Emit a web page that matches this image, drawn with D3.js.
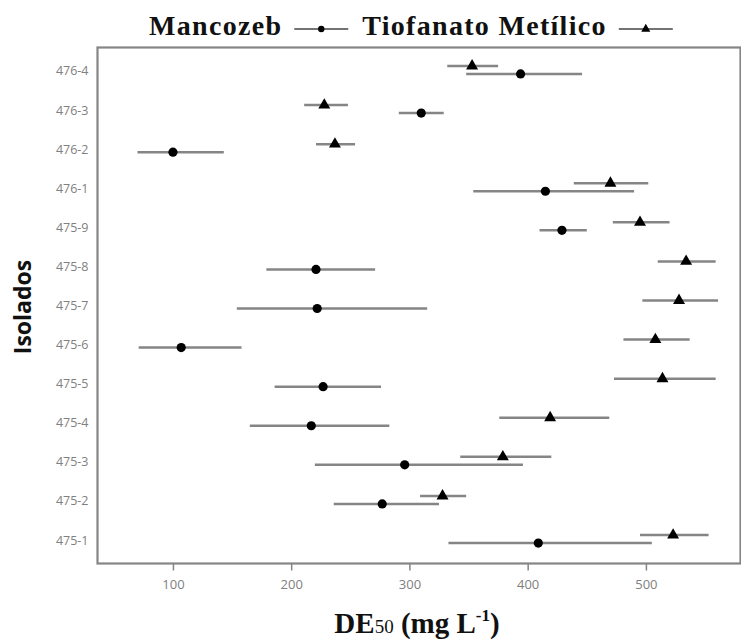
<!DOCTYPE html>
<html>
<head>
<meta charset="utf-8">
<script src="https://cdn.jsdelivr.net/npm/d3@7"></script>
<style>
  html, body { margin: 0; padding: 0; background: #fff; }
  svg { display: block; }
</style>
</head>
<body>
<div id="chart"></div>
<script>
	"use strict";

	// isolates, top to bottom
	var aIsolados = ["476-4", "476-3", "476-2", "476-1", "475-9", "475-8", "475-7",
		"475-6", "475-5", "475-4", "475-3", "475-2", "475-1"];

	// Mancozeb: DE50 and interval
	var aMancozeb = [394, 310, 100, 415, 429, 221, 222, 107, 227, 217, 296, 277, 409];
	var aMancozebLo = [348, 291, 70, 354, 410, 179, 154, 71, 186, 165, 220, 236, 333];
	var aMancozebHi = [446, 329, 143, 490, 450, 271, 315, 158, 276, 283, 396, 325, 505];

	// Tiofanato Metilico: DE50 and interval
	var aTiofanato = [353, 228, 237, 470, 495, 534, 528, 508, 514, 419, 379, 328, 523];
	var aTiofanatoLo = [332, 211, 221, 439, 472, 510, 497, 481, 473, 376, 343, 309, 495];
	var aTiofanatoHi = [375, 248, 254, 502, 520, 559, 561, 537, 559, 469, 420, 348, 553];

	var aTicks = [100, 200, 300, 400, 500];

	var iW = 741, iH = 641;
	var oPlot = { left: 97.5, top: 47.5, right: 740.5, bottom: 563.5 };

	var svg = d3.select("#chart").append("svg")
		.attr("width", iW).attr("height", iH);

	var x = d3.scaleLinear().domain([36.2, 580]).range([oPlot.left, oPlot.right]);
	var y = d3.scalePoint().domain(aIsolados).range([oPlot.top, oPlot.bottom]).padding(0.6);

	var sGray = "#858585";
	var sTickFont = "'Open Sans', sans-serif";
	var sSerif = "'Liberation Serif', 'Times New Roman', serif";

	// frame
	svg.append("rect")
		.attr("x", oPlot.left).attr("y", oPlot.top)
		.attr("width", oPlot.right - oPlot.left).attr("height", oPlot.bottom - oPlot.top)
		.attr("fill", "none").attr("stroke", sGray).attr("stroke-width", 2.2);

	// x axis
	var gX = svg.append("g")
		.attr("transform", "translate(0," + oPlot.bottom + ")")
		.call(d3.axisBottom(x).tickValues(aTicks).tickSize(7).tickPadding(9));
	gX.select(".domain").remove();
	gX.selectAll("line").attr("stroke", sGray).attr("stroke-width", 1.5);
	gX.selectAll("text").attr("fill", "#808080").attr("font-size", 13)
		.attr("font-family", sTickFont);

	// y axis labels
	var gY = svg.append("g")
		.attr("transform", "translate(" + oPlot.left + ",0)")
		.call(d3.axisLeft(y).tickSize(0).tickPadding(9));
	gY.select(".domain").remove();
	gY.selectAll("text").attr("fill", "#808080").attr("font-size", 12.5)
		.attr("font-family", sTickFont);

	function makeSeries(aVal, aLo, aHi, sName) {
		return aIsolados.map(function (s, i) {
			return { iso: s, v: aVal[i], lo: aLo[i], hi: aHi[i], name: sName };
		});
	}

	var aM = makeSeries(aMancozeb, aMancozebLo, aMancozebHi, "m");
	var aT = makeSeries(aTiofanato, aTiofanatoLo, aTiofanatoHi, "t");
	var iDyM = 3, iDyT = -5;

	var gData = svg.append("g");

	gData.selectAll("line.em").data(aM).enter().append("line")
		.attr("class", "em")
		.attr("x1", function (d) { return x(d.lo); })
		.attr("x2", function (d) { return x(d.hi); })
		.attr("y1", function (d) { return y(d.iso) + iDyM; })
		.attr("y2", function (d) { return y(d.iso) + iDyM; })
		.attr("stroke", sGray).attr("stroke-width", 2.5);

	gData.selectAll("line.et").data(aT).enter().append("line")
		.attr("class", "et")
		.attr("x1", function (d) { return x(d.lo); })
		.attr("x2", function (d) { return x(d.hi); })
		.attr("y1", function (d) { return y(d.iso) + iDyT; })
		.attr("y2", function (d) { return y(d.iso) + iDyT; })
		.attr("stroke", sGray).attr("stroke-width", 2.5);

	gData.selectAll("circle.pm").data(aM).enter().append("circle")
		.attr("class", "pm")
		.attr("cx", function (d) { return x(d.v); })
		.attr("cy", function (d) { return y(d.iso) + iDyM; })
		.attr("r", 4.6).attr("fill", "#000");

	var tri = d3.symbol().type(d3.symbolTriangle).size(62);
	gData.selectAll("path.pt").data(aT).enter().append("path")
		.attr("class", "pt")
		.attr("d", tri)
		.attr("transform", function (d) {
			return "translate(" + x(d.v) + "," + (y(d.iso) + iDyT) + ")";
		})
		.attr("fill", "#000");

	// y title
	svg.append("text")
		.attr("transform", "translate(22,307) rotate(-90)")
		.attr("text-anchor", "middle").attr("dominant-baseline", "central")
		.attr("font-family", "'Open Sans', sans-serif").attr("font-weight", "bold")
		.attr("font-size", 23).attr("fill", "#111")
		.text("Isolados");

	// x title
	var tX = svg.append("text")
		.attr("x", 417).attr("y", 633)
		.attr("text-anchor", "middle")
		.attr("font-family", sSerif).attr("font-weight", "bold")
		.attr("font-size", 29).attr("fill", "#111");
	tX.append("tspan").text("DE");
	tX.append("tspan").attr("font-size", 19).attr("font-weight", "normal").text("50");
	tX.append("tspan").text(" (mg L");
	tX.append("tspan").attr("font-size", 17).attr("dy", -12).text("-1");
	tX.append("tspan").attr("dy", 12).text(")");

	// legend on top
	var gLeg = svg.append("g");
	var iLegY = 35, iCur = 149;
	[{ label: "Mancozeb", sym: "c" }, { label: "Tiofanato Metílico", sym: "t" }].forEach(function (o) {
		var t = gLeg.append("text")
			.attr("x", iCur).attr("y", iLegY)
			.attr("font-family", sSerif).attr("font-weight", "bold")
			.attr("font-size", 28).attr("letter-spacing", 1.3).attr("fill", "#111")
			.text(o.label);
		iCur += t.node().getComputedTextLength() + 12;
		var iMid = iLegY - 6;
		gLeg.append("line")
			.attr("x1", iCur).attr("x2", iCur + 54)
			.attr("y1", iMid).attr("y2", iMid)
			.attr("stroke", "#444").attr("stroke-width", 1.5);
		if (o.sym === "c") {
			gLeg.append("circle").attr("cx", iCur + 27).attr("cy", iMid).attr("r", 3.2).attr("fill", "#000");
		} else {
			gLeg.append("path").attr("d", d3.symbol().type(d3.symbolTriangle).size(36))
				.attr("transform", "translate(" + (iCur + 27) + "," + iMid + ")").attr("fill", "#000");
		}
		iCur += 54 + 14;
	});
</script>
</body>
</html>
